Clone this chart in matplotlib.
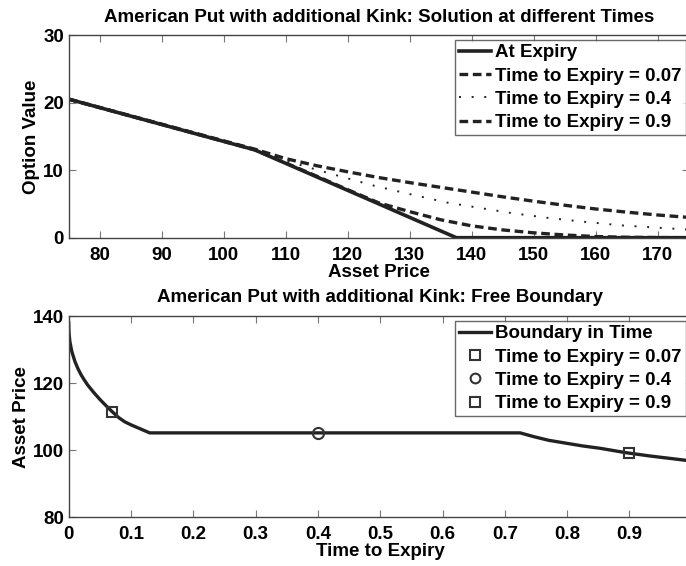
import numpy as np
import matplotlib.pyplot as plt
from matplotlib.lines import Line2D

# top panel: option value vs asset price
expiry_s = [75, 105, 137.5, 175]
expiry_v = [20.5, 13.0, 0.0, 0.0]

t007_s = [75, 105, 110, 115, 120, 125, 130, 135, 140, 145, 150, 155, 160, 165, 170, 175]
t007_v = [20.5, 13.0, 11.05, 9.1, 7.1, 5.15, 3.85, 2.65, 1.75, 1.15, 0.72, 0.4, 0.17, 0.06, 0.02, 0.0]

t04_s = [75, 105, 108, 112, 118, 124, 130, 136, 140, 146, 152, 158, 164, 170, 175]
t04_v = [20.5, 13.0, 11.9, 10.85, 9.28, 7.75, 6.45, 5.2, 4.6, 3.7, 2.96, 2.37, 1.83, 1.48, 1.2]

t09_s = [75, 105, 110, 115, 120, 125, 130, 135, 140, 145, 150, 155, 160, 165, 170, 175]
t09_v = [20.5, 13.1, 11.7, 10.65, 9.75, 8.9, 8.15, 7.45, 6.75, 6.05, 5.4, 4.8, 4.25, 3.78, 3.36, 3.0]

# bottom panel: free boundary
bnd_t = [0.0, 0.0005, 0.002, 0.005, 0.01, 0.015, 0.02, 0.025, 0.03, 0.04, 0.05, 0.06, 0.07, 0.08,
         0.09, 0.1, 0.11, 0.12, 0.13, 0.7245, 0.746, 0.77, 0.799, 0.825, 0.853, 0.894, 0.933, 0.96, 1.0]
bnd_s = [138.0, 135.0, 132.3, 129.5, 126.5, 124.3, 122.5, 121.0, 119.6, 117.3, 115.2, 113.3, 111.5, 109.8,
         108.5, 107.6, 106.8, 106.0, 105.2, 105.2, 104.1, 103.0, 102.1, 101.3, 100.6, 99.3, 98.3, 97.7, 96.8]

mark_t = [0.07, 0.4, 0.9]
mark_s = [111.5, 105.2, 99.2]
mark_style = ['s', 'o', 's']
mark_labels = ['Time to Expiry = 0.07', 'Time to Expiry = 0.4', 'Time to Expiry = 0.9']

plt.rcParams['font.family'] = ['Liberation Sans', 'DejaVu Sans']
plt.rcParams['font.weight'] = 'bold'
plt.rcParams['font.size'] = 13.5

W, H = 686, 566
fig = plt.figure(figsize=(W / 100, H / 100), dpi=100)

line_col = '#222222'
spine_col = '#444444'
fs = 13.5


def style_axes(ax):
    for sp in ax.spines.values():
        sp.set_color(spine_col)
        sp.set_linewidth(1.0)
    ax.tick_params(direction='in', top=True, right=True, length=5, width=0.8,
                   color='#777777', labelsize=fs)
    ax.tick_params(axis='x', pad=6.5)
    ax.tick_params(axis='y', pad=3.5)
    for lbl in ax.get_xticklabels() + ax.get_yticklabels():
        lbl.set_fontweight('bold')


leg_kw = dict(loc='upper right', bbox_transform=fig.transFigure, borderaxespad=0,
              fancybox=False, edgecolor=spine_col, handlelength=1.7, handletextpad=0.2,
              labelspacing=0.33, borderpad=0.22, prop={'weight': 'bold', 'size': fs})

ax1 = fig.add_axes([68.8 / W, 1 - 237.7 / H, 620 / W, 202.7 / H])
ax1.plot(expiry_s, expiry_v, '-', color=line_col, lw=2.6, label='At Expiry')
ax1.plot(t007_s, t007_v, color=line_col, lw=2.4, dashes=(2.6, 1.4), label='Time to Expiry = 0.07')
ax1.plot(t04_s, t04_v, color=line_col, lw=1.4, linestyle=(0, (1, 5.5)), label='Time to Expiry = 0.4')
ax1.plot(t09_s, t09_v, color=line_col, lw=2.4, dashes=(2.6, 1.4), label='Time to Expiry = 0.9')
ax1.set_xlim(75, 175)
ax1.set_ylim(0, 30)
ax1.set_xticks(np.arange(80, 171, 10))
ax1.set_yticks([0, 10, 20, 30])
style_axes(ax1)
ax1.set_title('American Put with additional Kink: Solution at different Times',
              fontsize=fs, fontweight='bold', pad=9.5)
ax1.set_xlabel('Asset Price', fontsize=fs, fontweight='bold', labelpad=0)
ax1.set_ylabel('Option Value', fontsize=fs, fontweight='bold', labelpad=2)
leg1 = ax1.legend(bbox_to_anchor=(685.5 / W, 1 - 40 / H), **leg_kw)
leg1.get_frame().set_linewidth(1.0)

ax2 = fig.add_axes([68.7 / W, 1 - 517.3 / H, 623 / W, 201 / H])
ax2.plot(bnd_t, bnd_s, '-', color=line_col, lw=2.4)
for t, s, m in zip(mark_t, mark_s, mark_style):
    ax2.plot([t], [s], m, mfc='none', mec='#333333', mew=1.5, ms=8 if m == 'o' else 7)
ax2.set_xlim(0, 1)
ax2.set_ylim(80, 140)
ax2.set_xticks(np.arange(0, 0.95, 0.1))
ax2.set_xticklabels(['0', '0.1', '0.2', '0.3', '0.4', '0.5', '0.6', '0.7', '0.8', '0.9'])
ax2.set_yticks([80, 100, 120, 140])
style_axes(ax2)
ax2.set_title('American Put with additional Kink: Free Boundary',
              fontsize=fs, fontweight='bold', pad=10)
ax2.set_xlabel('Time to Expiry', fontsize=fs, fontweight='bold', labelpad=0)
ax2.set_ylabel('Asset Price', fontsize=fs, fontweight='bold', labelpad=2)

handles = [Line2D([], [], color=line_col, lw=2.4)]
for m in mark_style:
    handles.append(Line2D([], [], linestyle='none', marker=m, mfc='none', mec='#333333',
                          mew=1.5, ms=7))
leg2 = ax2.legend(handles, ['Boundary in Time'] + mark_labels,
                  bbox_to_anchor=(685.5 / W, 1 - 321 / H), **leg_kw)
leg2.get_frame().set_linewidth(1.0)

fig.savefig('out.png', dpi=100)
